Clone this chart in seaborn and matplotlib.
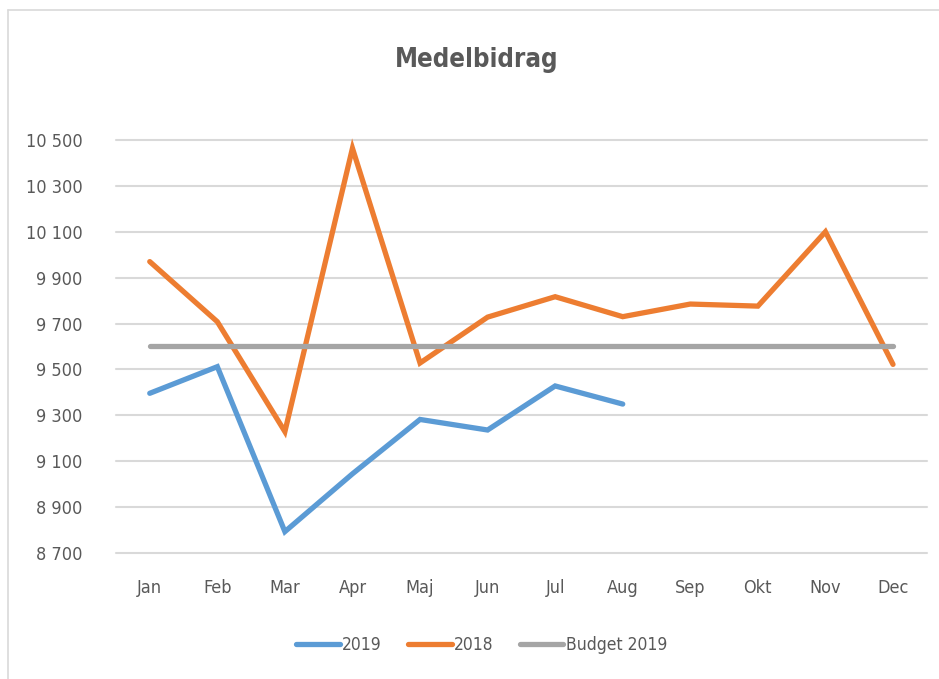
import numpy as np
import pandas as pd
import matplotlib
matplotlib.use("Agg")
import matplotlib.pyplot as plt
import seaborn as sns
from matplotlib.lines import Line2D

months = ["Jan", "Feb", "Mar", "Apr", "Maj", "Jun", "Jul", "Aug", "Sep", "Okt", "Nov", "Dec"]
v2019 = [9396, 9512, 8793, 9045, 9282, 9236, 9428, 9349]
v2018 = [9970, 9708, 9229, 10464, 9528, 9728, 9817, 9730, 9785, 9776, 10100, 9522]
budget2019 = [9600] * 12
yticks = [8700, 8900, 9100, 9300, 9500, 9700, 9900, 10100, 10300, 10500]

series = ["2019", "2018", "Budget 2019"]
colors = {"2019": "#5b9bd5", "2018": "#ed7d31", "Budget 2019": "#a5a5a5"}

df = pd.concat([
    pd.DataFrame({"idx": range(len(v2019)), "value": v2019, "serie": "2019"}),
    pd.DataFrame({"idx": range(len(v2018)), "value": v2018, "serie": "2018"}),
    pd.DataFrame({"idx": range(len(budget2019)), "value": budget2019, "serie": "Budget 2019"}),
])

sns.set_style("white")
plt.rcParams['font.family'] = ['DejaVu Sans']
plt.rcParams['font.stretch'] = 'condensed'
txt = "#595959"

fig = plt.figure(figsize=(9.39, 6.79), dpi=100)
ax = fig.add_axes([0.1235, 0.1856, 0.8635, 0.6082])

# grid first
for y in yticks:
    ax.axhline(y, color="#d9d9d9", lw=1.5, zorder=0)

sns.lineplot(data=df, x="idx", y="value", hue="serie", hue_order=series,
             palette=colors, lw=3.8, ax=ax, legend=False, sort=False)
for ln in ax.lines:
    ln.set_solid_capstyle("round")
    ln.set_solid_joinstyle("miter")
    ln.set_clip_on(False)

ax.set_xlim(-0.5, 11.5)
ax.set_ylim(8700, 10500)
ax.set_xticks(range(12))
ax.set_xticklabels(months)
ax.set_yticks(yticks)
ax.set_yticklabels([f"{t:,}".replace(",", " ") for t in yticks])
ax.tick_params(axis="both", length=0, labelsize=13, labelcolor=txt)
ax.tick_params(axis="x", pad=19)
ax.tick_params(axis="y", pad=24)
ax.set_xlabel("")
ax.set_ylabel("")
for s in ax.spines.values():
    s.set_visible(False)

fig.text(0.508, 0.912, "Medelbidrag", ha="center", va="center",
         fontsize=18.5, fontweight="bold", color=txt)

handles = [Line2D([0], [0], color=colors[s], lw=3.8, solid_capstyle="round") for s in series]
fig.legend(handles, series, loc="center", bbox_to_anchor=(0.513, 0.05), ncol=3,
           frameon=False, fontsize=12.5, handlelength=2.5, handletextpad=0.15,
           columnspacing=1.5, labelcolor=txt)

# outer chart border (left and top)
fig.add_artist(Line2D([8 / 939, 8 / 939], [0, 1 - 10 / 679], color="#d9d9d9", lw=1.2,
                      transform=fig.transFigure))
fig.add_artist(Line2D([8 / 939, 1], [1 - 10 / 679, 1 - 10 / 679], color="#d9d9d9", lw=1.2,
                      transform=fig.transFigure))

fig.savefig("out.png", dpi=100, facecolor="white")
